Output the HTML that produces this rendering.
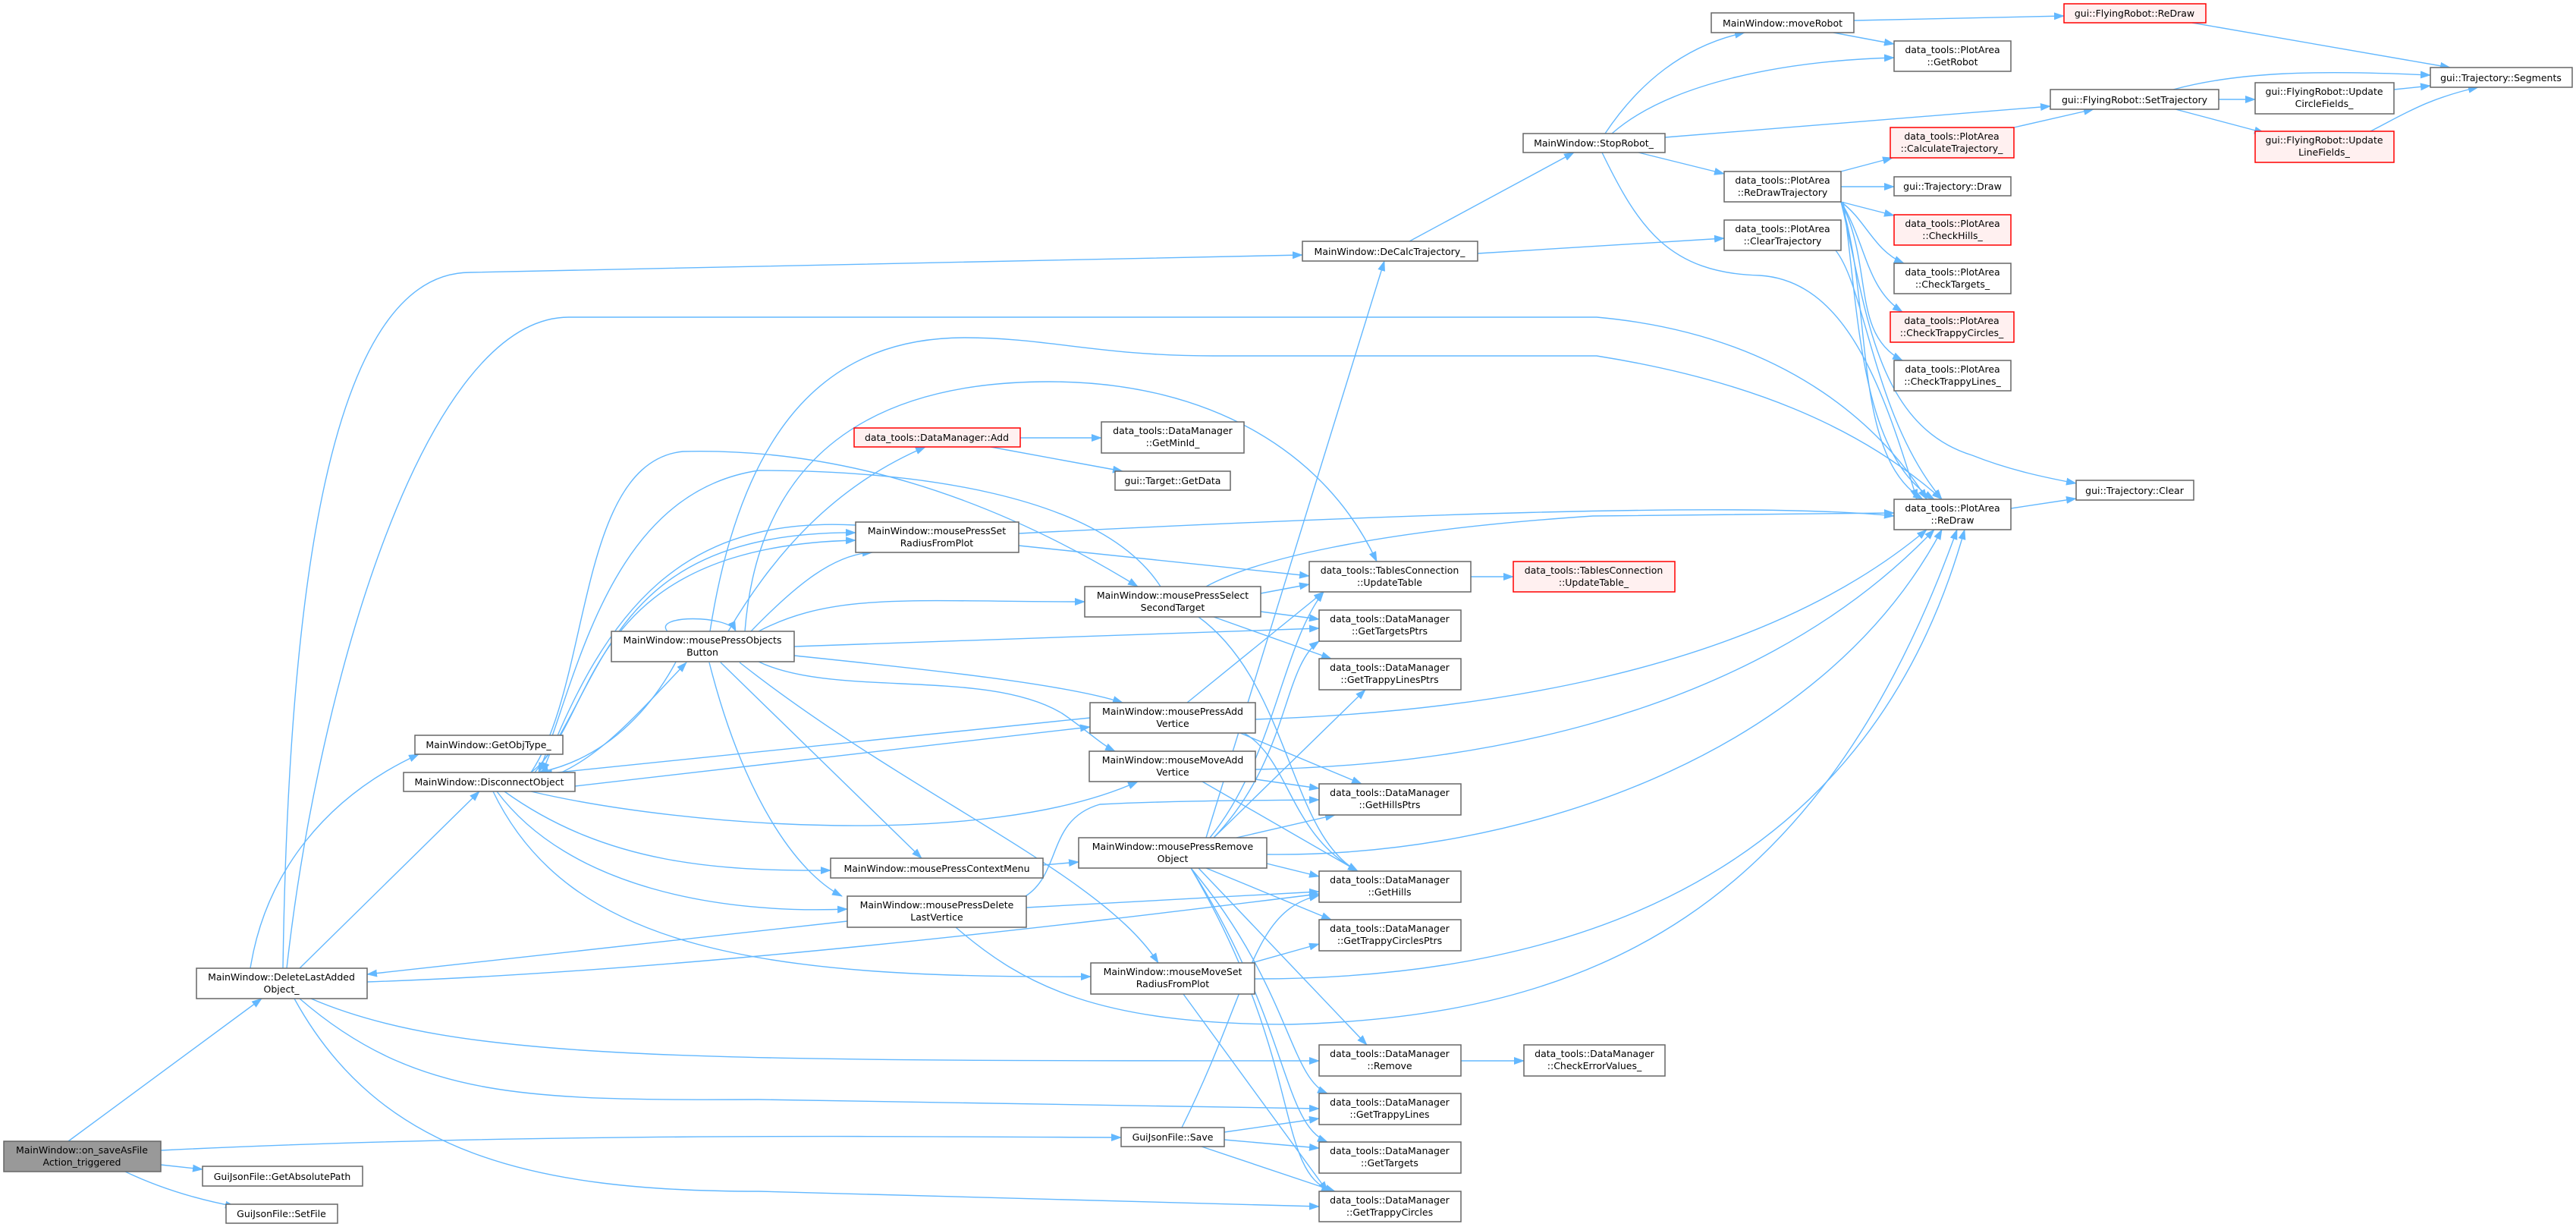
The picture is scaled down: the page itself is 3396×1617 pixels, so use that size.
<!DOCTYPE html>
<html><head><meta charset="utf-8"><style>
html,body{margin:0;padding:0;background:#fff;}
svg{display:block}
text{font-family:"DejaVu Sans","Liberation Sans",sans-serif;font-size:12.5px;fill:#000;text-anchor:middle}
.n rect{fill:#fff;stroke:#666;stroke-width:1.5}
.r rect{fill:#fff0f0;stroke:#f00;stroke-width:1.5}
.g rect{fill:#999;stroke:#666;stroke-width:1.5}
path.e{fill:none;stroke:#63b8ff;stroke-width:1.4;marker-end:url(#a)}
</style></head><body>
<svg width="3396" height="1617" viewBox="0 0 3396 1617" xmlns="http://www.w3.org/2000/svg">
<defs><marker id="a" markerUnits="userSpaceOnUse" markerWidth="14" markerHeight="10" refX="13" refY="5" orient="auto"><path d="M0,0 L14,5 L0,10 z" fill="#63b8ff"/></marker></defs>
<g>
<path class="e" d="M90 1504 L345 1316"/>
<path class="e" d="M212 1535 L267 1541"/>
<path class="e" d="M165 1544 Q230 1575 310 1590"/>
<path class="e" d="M212 1516 C700 1492 1200 1498 1478 1499"/>
<path class="e" d="M330 1276 C350 1150 430 1050 552 994"/>
<path class="e" d="M395 1276 L632 1043"/>
<path class="e" d="M373 1276 C380 800 430 359 620 359 L1717 336"/>
<path class="e" d="M378 1276 C420 900 560 418 750 418 L2105 418 C2350 440 2480 560 2540 658"/>
<path class="e" d="M484 1294 C900 1280 1400 1220 1739 1178"/>
<path class="e" d="M410 1316 C600 1398 900 1398 1739 1398"/>
<path class="e" d="M395 1316 C550 1450 700 1450 1000 1449 L1739 1461"/>
<path class="e" d="M388 1316 C500 1520 700 1570 1000 1570 L1739 1590"/>
<path class="e" d="M1117 1214 L484 1284"/>
<path class="e" d="M740 1018 C800 990 850 930 905 873"/>
<path class="e" d="M910 832 C870 930 800 1000 710 1018"/>
<path class="e" d="M700 1018 C790 950 760 720 1128 712"/>
<path class="e" d="M705 1018 C800 900 800 700 1128 702"/>
<path class="e" d="M700 1018 C780 900 760 610 900 595 C1100 590 1300 650 1500 773"/>
<path class="e" d="M1530 773 C1450 650 1200 620 1000 620 C800 650 760 900 710 1018"/>
<path class="e" d="M1128 692 C900 680 800 800 715 1018"/>
<path class="e" d="M982 832 C1000 600 1150 503 1383 503 C1600 503 1750 600 1815 740"/>
<path class="e" d="M936 832 C980 550 1100 445 1272 445 C1380 445 1450 469 1600 469 L2105 469 C2300 500 2450 560 2560 658"/>
<path class="e" d="M880 832 C860 810 960 810 970 832"/>
<path class="e" d="M960 832 C1020 730 1100 640 1220 589"/>
<path class="e" d="M990 832 C1050 770 1100 730 1150 728"/>
<path class="e" d="M1000 832 C1100 780 1200 793 1430 793"/>
<path class="e" d="M1047 852 L1739 828"/>
<path class="e" d="M1047 864 C1200 880 1400 900 1480 926"/>
<path class="e" d="M1000 872 C1100 920 1300 880 1400 940 C1430 960 1450 980 1470 990"/>
<path class="e" d="M950 873 L1215 1131"/>
<path class="e" d="M935 873 C980 1050 1050 1150 1110 1181"/>
<path class="e" d="M975 873 C1200 1050 1450 1150 1527 1269"/>
<path class="e" d="M758 1036 L1437 958"/>
<path class="e" d="M1437 946 L715 1020"/>
<path class="e" d="M700 1043 C900 1090 1300 1120 1500 1030"/>
<path class="e" d="M665 1043 C800 1140 950 1148 1095 1147"/>
<path class="e" d="M655 1043 C750 1170 950 1205 1117 1198"/>
<path class="e" d="M650 1043 C750 1250 1000 1290 1438 1287"/>
<path class="e" d="M1375 1140 L1422 1136"/>
<path class="e" d="M1590 1104 L1825 344"/>
<path class="e" d="M1595 1104 C1680 1000 1690 850 1745 780"/>
<path class="e" d="M1600 1104 C1700 1000 1690 880 1739 845"/>
<path class="e" d="M1600 1104 L1800 909"/>
<path class="e" d="M1630 1104 L1760 1074"/>
<path class="e" d="M1670 1126 C2000 1130 2400 1000 2560 698"/>
<path class="e" d="M1670 1138 L1739 1155"/>
<path class="e" d="M1590 1144 L1755 1212"/>
<path class="e" d="M1580 1144 L1802 1377"/>
<path class="e" d="M1570 1144 C1700 1300 1700 1420 1750 1441"/>
<path class="e" d="M1570 1144 C1700 1350 1690 1480 1750 1505"/>
<path class="e" d="M1570 1144 C1720 1400 1680 1540 1755 1570"/>
<path class="e" d="M1565 926 L1745 780"/>
<path class="e" d="M1655 948 C1900 940 2300 900 2540 698"/>
<path class="e" d="M1635 966 L1795 1033"/>
<path class="e" d="M1640 966 C1700 1000 1700 1100 1790 1148"/>
<path class="e" d="M1655 1014 C1900 1010 2300 960 2550 698"/>
<path class="e" d="M1655 1027 L1739 1039"/>
<path class="e" d="M1585 1030 L1790 1148"/>
<path class="e" d="M1343 719 L1726 759"/>
<path class="e" d="M1343 703 C1800 680 2300 660 2497 680"/>
<path class="e" d="M1662 782 L1726 770"/>
<path class="e" d="M1662 806 L1739 816"/>
<path class="e" d="M1600 813 L1755 868"/>
<path class="e" d="M1580 813 C1700 900 1700 1100 1790 1148"/>
<path class="e" d="M1590 773 C1650 740 1800 700 2100 680 L2497 676"/>
<path class="e" d="M1352 1181 C1400 1150 1380 1080 1450 1060 C1550 1055 1650 1055 1739 1054"/>
<path class="e" d="M1353 1196 L1739 1175"/>
<path class="e" d="M1260 1222 C1350 1300 1450 1350 1700 1350 C2100 1340 2400 1200 2580 698"/>
<path class="e" d="M1650 1269 L1739 1244"/>
<path class="e" d="M1654 1290 C2000 1290 2450 1200 2590 698"/>
<path class="e" d="M1560 1310 L1750 1570"/>
<path class="e" d="M1558 1486 C1650 1300 1650 1200 1739 1180"/>
<path class="e" d="M1614 1492 L1739 1474"/>
<path class="e" d="M1614 1502 L1739 1513"/>
<path class="e" d="M1584 1511 L1760 1570"/>
<path class="e" d="M1926 1398 L2009 1398"/>
<path class="e" d="M1345 577 L1452 577"/>
<path class="e" d="M1306 589 L1480 621"/>
<path class="e" d="M1939 760 L1995 760"/>
<path class="e" d="M1858 318 L2075 201"/>
<path class="e" d="M1948 334 L2273 314"/>
<path class="e" d="M2116 176 C2160 110 2220 60 2300 43"/>
<path class="e" d="M2125 176 C2200 110 2350 80 2497 76"/>
<path class="e" d="M2195 181 L2703 140"/>
<path class="e" d="M2160 201 L2273 229"/>
<path class="e" d="M2112 201 C2160 300 2200 360 2320 363 C2430 370 2480 500 2527 658"/>
<path class="e" d="M2444 27 L2721 21"/>
<path class="e" d="M2417 43 L2497 58"/>
<path class="e" d="M2890 30 L3230 89"/>
<path class="e" d="M2865 118 C2950 95 3050 92 3204 99"/>
<path class="e" d="M2925 131 L2973 131"/>
<path class="e" d="M2868 144 L2985 175"/>
<path class="e" d="M3156 118 L3204 113"/>
<path class="e" d="M3125 173 C3170 150 3200 130 3267 115"/>
<path class="e" d="M2655 168 L2760 144"/>
<path class="e" d="M2427 226 L2495 208"/>
<path class="e" d="M2427 246 L2497 246"/>
<path class="e" d="M2427 266 L2497 284"/>
<path class="e" d="M2427 266 C2460 290 2470 330 2510 347"/>
<path class="e" d="M2427 266 C2460 320 2460 380 2508 411"/>
<path class="e" d="M2427 266 C2470 350 2440 440 2508 475"/>
<path class="e" d="M2427 266 C2470 400 2440 600 2535 658"/>
<path class="e" d="M2430 266 C2450 400 2450 600 2550 658"/>
<path class="e" d="M2427 266 C2460 400 2470 560 2600 600 C2650 620 2700 630 2737 637"/>
<path class="e" d="M2420 330 C2460 380 2470 550 2560 658"/>
<path class="e" d="M2651 670 L2737 657"/>
</g>
<g class="g"><rect x="5" y="1504" width="207" height="40"/><text x="108" y="1520">MainWindow::on_saveAsFile</text><text x="108" y="1536">Action_triggered</text></g>
<g class="n"><rect x="267" y="1537" width="211" height="26"/><text x="372" y="1555">GuiJsonFile::GetAbsolutePath</text></g>
<g class="n"><rect x="298" y="1587" width="147" height="25"/><text x="371" y="1604">GuiJsonFile::SetFile</text></g>
<g class="n"><rect x="259" y="1276" width="225" height="40"/><text x="371" y="1292">MainWindow::DeleteLastAdded</text><text x="371" y="1308">Object_</text></g>
<g class="n"><rect x="547" y="969" width="195" height="25"/><text x="644" y="986">MainWindow::GetObjType_</text></g>
<g class="n"><rect x="532" y="1018" width="226" height="25"/><text x="645" y="1035">MainWindow::DisconnectObject</text></g>
<g class="n"><rect x="806" y="832" width="241" height="40"/><text x="926" y="848">MainWindow::mousePressObjects</text><text x="926" y="864">Button</text></g>
<g class="r"><rect x="1126" y="564" width="219" height="25"/><text x="1235" y="581">data_tools::DataManager::Add</text></g>
<g class="n"><rect x="1452" y="556" width="188" height="41"/><text x="1546" y="572">data_tools::DataManager</text><text x="1546" y="588">::GetMinId_</text></g>
<g class="n"><rect x="1470" y="621" width="152" height="25"/><text x="1546" y="638">gui::Target::GetData</text></g>
<g class="n"><rect x="1128" y="688" width="215" height="40"/><text x="1235" y="704">MainWindow::mousePressSet</text><text x="1235" y="720">RadiusFromPlot</text></g>
<g class="n"><rect x="1430" y="773" width="232" height="40"/><text x="1546" y="789">MainWindow::mousePressSelect</text><text x="1546" y="805">SecondTarget</text></g>
<g class="n"><rect x="1726" y="740" width="213" height="40"/><text x="1832" y="756">data_tools::TablesConnection</text><text x="1832" y="772">::UpdateTable</text></g>
<g class="r"><rect x="1995" y="740" width="213" height="40"/><text x="2101" y="756">data_tools::TablesConnection</text><text x="2101" y="772">::UpdateTable_</text></g>
<g class="n"><rect x="1739" y="804" width="187" height="41"/><text x="1832" y="820">data_tools::DataManager</text><text x="1832" y="836">::GetTargetsPtrs</text></g>
<g class="n"><rect x="1739" y="868" width="187" height="41"/><text x="1832" y="884">data_tools::DataManager</text><text x="1832" y="900">::GetTrappyLinesPtrs</text></g>
<g class="n"><rect x="1437" y="926" width="218" height="40"/><text x="1546" y="942">MainWindow::mousePressAdd</text><text x="1546" y="958">Vertice</text></g>
<g class="n"><rect x="1436" y="990" width="219" height="40"/><text x="1546" y="1006">MainWindow::mouseMoveAdd</text><text x="1546" y="1022">Vertice</text></g>
<g class="n"><rect x="1739" y="1033" width="187" height="41"/><text x="1832" y="1049">data_tools::DataManager</text><text x="1832" y="1065">::GetHillsPtrs</text></g>
<g class="n"><rect x="1422" y="1104" width="248" height="40"/><text x="1546" y="1120">MainWindow::mousePressRemove</text><text x="1546" y="1136">Object</text></g>
<g class="n"><rect x="1095" y="1131" width="280" height="26"/><text x="1235" y="1149">MainWindow::mousePressContextMenu</text></g>
<g class="n"><rect x="1739" y="1148" width="187" height="41"/><text x="1832" y="1164">data_tools::DataManager</text><text x="1832" y="1180">::GetHills</text></g>
<g class="n"><rect x="1117" y="1181" width="236" height="41"/><text x="1235" y="1197">MainWindow::mousePressDelete</text><text x="1235" y="1213">LastVertice</text></g>
<g class="n"><rect x="1739" y="1212" width="187" height="41"/><text x="1832" y="1228">data_tools::DataManager</text><text x="1832" y="1244">::GetTrappyCirclesPtrs</text></g>
<g class="n"><rect x="1438" y="1269" width="216" height="41"/><text x="1546" y="1285">MainWindow::mouseMoveSet</text><text x="1546" y="1301">RadiusFromPlot</text></g>
<g class="n"><rect x="1739" y="1377" width="187" height="41"/><text x="1832" y="1393">data_tools::DataManager</text><text x="1832" y="1409">::Remove</text></g>
<g class="n"><rect x="2009" y="1377" width="186" height="41"/><text x="2102" y="1393">data_tools::DataManager</text><text x="2102" y="1409">::CheckErrorValues_</text></g>
<g class="n"><rect x="1739" y="1441" width="187" height="41"/><text x="1832" y="1457">data_tools::DataManager</text><text x="1832" y="1473">::GetTrappyLines</text></g>
<g class="n"><rect x="1478" y="1486" width="136" height="25"/><text x="1546" y="1503">GuiJsonFile::Save</text></g>
<g class="n"><rect x="1739" y="1505" width="187" height="41"/><text x="1832" y="1521">data_tools::DataManager</text><text x="1832" y="1537">::GetTargets</text></g>
<g class="n"><rect x="1739" y="1570" width="187" height="40"/><text x="1832" y="1586">data_tools::DataManager</text><text x="1832" y="1602">::GetTrappyCircles</text></g>
<g class="n"><rect x="1717" y="318" width="231" height="26"/><text x="1832" y="336">MainWindow::DeCalcTrajectory_</text></g>
<g class="n"><rect x="2008" y="176" width="187" height="25"/><text x="2101" y="193">MainWindow::StopRobot_</text></g>
<g class="n"><rect x="2256" y="17" width="188" height="26"/><text x="2350" y="35">MainWindow::moveRobot</text></g>
<g class="r"><rect x="2721" y="5" width="187" height="25"/><text x="2814" y="22">gui::FlyingRobot::ReDraw</text></g>
<g class="n"><rect x="2497" y="54" width="154" height="40"/><text x="2574" y="70">data_tools::PlotArea</text><text x="2574" y="86">::GetRobot</text></g>
<g class="n"><rect x="3204" y="89" width="187" height="26"/><text x="3297" y="107">gui::Trajectory::Segments</text></g>
<g class="n"><rect x="2703" y="118" width="222" height="26"/><text x="2814" y="136">gui::FlyingRobot::SetTrajectory</text></g>
<g class="n"><rect x="2973" y="109" width="183" height="41"/><text x="3064" y="125">gui::FlyingRobot::Update</text><text x="3064" y="141">CircleFields_</text></g>
<g class="r"><rect x="2973" y="173" width="183" height="41"/><text x="3064" y="189">gui::FlyingRobot::Update</text><text x="3064" y="205">LineFields_</text></g>
<g class="r"><rect x="2492" y="168" width="163" height="40"/><text x="2573" y="184">data_tools::PlotArea</text><text x="2573" y="200">::CalculateTrajectory_</text></g>
<g class="n"><rect x="2273" y="226" width="154" height="40"/><text x="2350" y="242">data_tools::PlotArea</text><text x="2350" y="258">::ReDrawTrajectory</text></g>
<g class="n"><rect x="2497" y="233" width="154" height="25"/><text x="2574" y="250">gui::Trajectory::Draw</text></g>
<g class="r"><rect x="2497" y="283" width="154" height="40"/><text x="2574" y="299">data_tools::PlotArea</text><text x="2574" y="315">::CheckHills_</text></g>
<g class="n"><rect x="2273" y="290" width="154" height="40"/><text x="2350" y="306">data_tools::PlotArea</text><text x="2350" y="322">::ClearTrajectory</text></g>
<g class="n"><rect x="2497" y="347" width="154" height="40"/><text x="2574" y="363">data_tools::PlotArea</text><text x="2574" y="379">::CheckTargets_</text></g>
<g class="r"><rect x="2492" y="411" width="163" height="40"/><text x="2573" y="427">data_tools::PlotArea</text><text x="2573" y="443">::CheckTrappyCircles_</text></g>
<g class="n"><rect x="2497" y="475" width="154" height="40"/><text x="2574" y="491">data_tools::PlotArea</text><text x="2574" y="507">::CheckTrappyLines_</text></g>
<g class="n"><rect x="2737" y="633" width="155" height="26"/><text x="2814" y="651">gui::Trajectory::Clear</text></g>
<g class="n"><rect x="2497" y="658" width="154" height="40"/><text x="2574" y="674">data_tools::PlotArea</text><text x="2574" y="690">::ReDraw</text></g>
</svg>
</body></html>
